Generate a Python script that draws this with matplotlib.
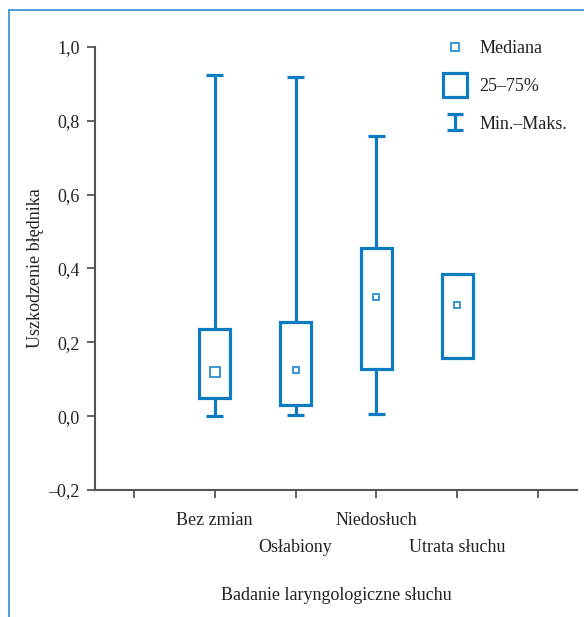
import matplotlib.pyplot as plt
from matplotlib.lines import Line2D
from matplotlib.path import Path
import numpy as np

# dane
grupy = ['Bez zmian', 'Osłabiony', 'Niedosłuch', 'Utrata słuchu']
pozycje = [1, 2, 3, 4]
minimum = [0.0, 0.003, 0.005, np.nan]
maksimum = [0.924, 0.919, 0.760, np.nan]
q25 = [0.049, 0.030, 0.127, 0.157]
q75 = [0.235, 0.256, 0.455, 0.384]
mediana = [0.119, 0.124, 0.322, 0.300]
rozmiar_mediany = [6.5, 4.3, 4.6, 4.6]

niebieski = '#0b7cc2'
jasny = '#3c97d3'
szary = '#555555'
tekst = '#222222'

plt.rcParams['font.family'] = ['Liberation Serif', 'DejaVu Serif']
plt.rcParams['font.size'] = 13

fig = plt.figure(figsize=(5.84, 6.17), dpi=100)
ax = fig.add_axes([95 / 584, 1 - 490 / 617, 482 / 584, 443 / 617])

# wąsy (min-maks)
ax.vlines(pozycje, minimum, q25, color=niebieski, lw=2.3)
ax.vlines(pozycje, q75, maksimum, color=niebieski, lw=2.3)
ax.hlines(minimum, np.array(pozycje) - 0.105, np.array(pozycje) + 0.105, color=niebieski, lw=2.3)
ax.hlines(maksimum, np.array(pozycje) - 0.105, np.array(pozycje) + 0.105, color=niebieski, lw=2.3)

# pudełka 25-75%
ax.bar(pozycje, np.array(q75) - np.array(q25), bottom=q25, width=0.39,
       fill=False, edgecolor=niebieski, linewidth=2.3, zorder=3)

# mediany
for x, m, s in zip(pozycje, mediana, rozmiar_mediany):
    ax.plot(x, m, marker='s', ms=s, mfc='white', mec=jasny, mew=1.4, zorder=4)

ax.set_xlim(-0.48, 5.48)
ax.set_ylim(-0.2, 1.0)
ax.set_yticks([-0.2, 0.0, 0.2, 0.4, 0.6, 0.8, 1.0])
ax.set_yticklabels(['–0,2', '0,0', '0,2', '0,4', '0,6', '0,8', '1,0'])

# podpisy grup na dwóch poziomach
ax.set_xticks([0, 1, 2, 3, 4, 5])
ax.set_xticklabels(['', grupy[0], '', grupy[2], '', ''])
ax.xaxis.remove_overlapping_locs = False
ax.set_xticks([2, 4], minor=True)
ax.set_xticklabels([grupy[1], grupy[3]], minor=True)

for s in ['top', 'right']:
    ax.spines[s].set_visible(False)
for s in ['left', 'bottom']:
    ax.spines[s].set_color(szary)
    ax.spines[s].set_linewidth(1.5)
ax.tick_params(direction='out', length=6, width=1.3, color=szary, labelcolor=tekst, pad=5)
ax.tick_params(axis='x', which='major', pad=10)
ax.tick_params(axis='x', which='minor', length=0, pad=35, labelcolor=tekst)

ax.set_ylabel('Uszkodzenie błędnika', color=tekst)
ax.yaxis.set_label_coords(-0.106, 0.5)
ax.set_xlabel('Badanie laryngologiczne słuchu', color=tekst)
ax.xaxis.set_label_coords(0.5, -0.218)

# legenda
belka = Path([(-1, 1), (1, 1), (0, 1), (0, -1), (-1, -1), (1, -1)],
             [Path.MOVETO, Path.LINETO, Path.MOVETO, Path.LINETO, Path.MOVETO, Path.LINETO])
uchwyty = [
    Line2D([], [], ls='none', marker='s', ms=5.5, mfc='white', mec=jasny, mew=1.4),
    Line2D([], [], ls='none', marker='s', ms=17, mfc='white', mec=niebieski, mew=2.3),
    Line2D([], [], ls='none', marker=belka, ms=12, mec=niebieski, mew=2.3),
]
leg = ax.legend(uchwyty, ['Mediana', '25–75%', 'Min.–Maks.'], loc='upper left',
                bbox_to_anchor=(425 / 584, 1 - 24 / 617), bbox_transform=fig.transFigure,
                frameon=False, labelspacing=1.15, handletextpad=0.6, handlelength=1.5)
for t in leg.get_texts():
    t.set_color(tekst)

# ramka
fig.add_artist(Line2D([9 / 584, 9 / 584], [0, 1 - 10 / 617], color='#3c97d3', lw=1.3))
fig.add_artist(Line2D([9 / 584, 1], [1 - 10 / 617, 1 - 10 / 617], color='#3c97d3', lw=1.3))

plt.savefig('out.png', dpi=100)
